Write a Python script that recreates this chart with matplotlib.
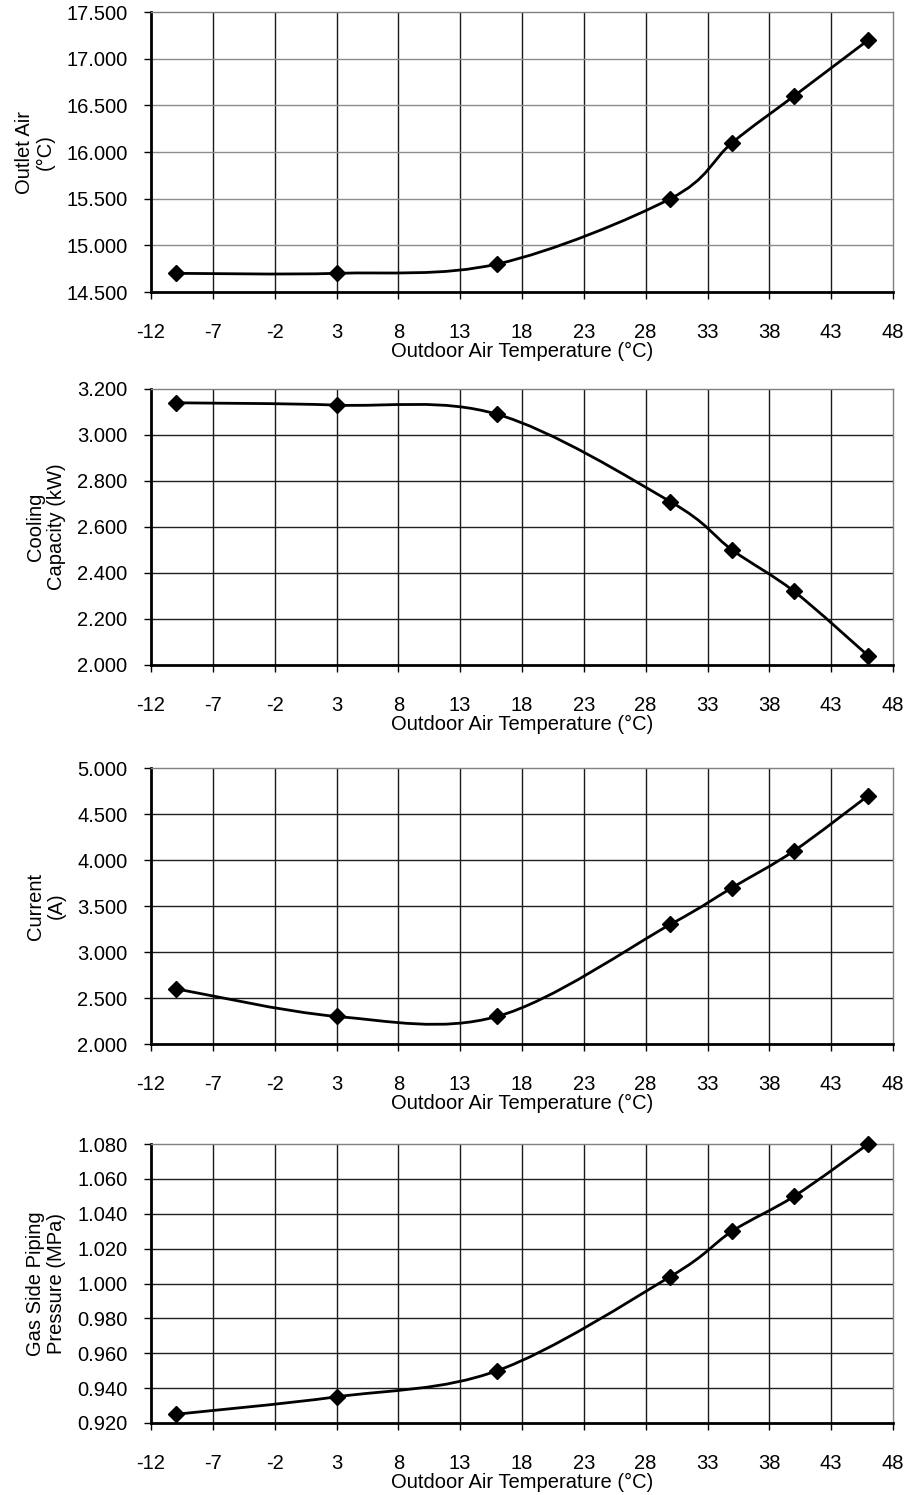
import numpy as np
import matplotlib.pyplot as plt
from matplotlib.path import Path
from matplotlib.patches import PathPatch

plt.rcParams['font.family'] = ['Liberation Sans', 'DejaVu Sans']
plt.rcParams['axes.unicode_minus'] = False

temps = [-10, 3, 16, 30, 35, 40, 46]
outlet_air = [14.7, 14.7, 14.8, 15.5, 16.1, 16.6, 17.2]
cooling_cap = [3.14, 3.13, 3.09, 2.71, 2.50, 2.32, 2.04]
current = [2.6, 2.3, 2.3, 3.3, 3.7, 4.1, 4.7]
gas_pressure = [0.925, 0.935, 0.950, 1.004, 1.030, 1.050, 1.080]

xticks = np.arange(-12, 49, 5)

panels = [
    (outlet_air, "Outlet Air\n(°C)", (14.5, 17.5, 0.5), (12, 292), "#8c8c8c"),
    (cooling_cap, "Cooling\nCapacity (kW)", (2.0, 3.2, 0.2), (389, 665), "#202020"),
    (current, "Current\n(A)", (2.0, 5.0, 0.5), (768, 1044), "#202020"),
    (gas_pressure, "Gas Side Piping\nPressure (MPa)", (0.92, 1.08, 0.02), (1144, 1423), "#202020"),
]

W, H = 907, 1495


def smooth_path(xs, ys):
    # Excel-like smoothed line: cubic Bezier through every point
    p = np.column_stack([xs, ys]).astype(float)
    n = len(p)
    verts = [p[0]]
    codes = [Path.MOVETO]
    for i in range(n - 1):
        p0 = p[i - 1] if i > 0 else p[i]
        p3 = p[i + 2] if i + 2 < n else p[i + 1]
        c1 = p[i] + (p[i + 1] - p0) / 6.0
        c2 = p[i + 1] - (p3 - p[i]) / 6.0
        verts += [c1, c2, p[i + 1]]
        codes += [Path.CURVE4] * 3
    return Path(verts, codes)


fig = plt.figure(figsize=(W / 100, H / 100), dpi=100)
left, right = 151, 893
fs = 14.5

for vals, ylab, (ymin, ymax, ystep), (top, bot), hcol in panels:
    ax = fig.add_axes([left / W, 1 - bot / H, (right - left) / W, (bot - top) / H])
    ax.set_xlim(-12, 48)
    ax.set_ylim(ymin, ymax)
    ax.set_xticks(xticks)
    yt = np.arange(ymin, ymax + ystep / 2, ystep)
    ax.set_yticks(yt)
    ax.set_yticklabels([f"{v:.3f}" for v in yt])
    for v in xticks[1:-1]:
        ax.axvline(v, color="#1a1a1a", lw=1.0, zorder=1)
    for v in yt[1:-1]:
        ax.axhline(v, color=hcol, lw=1.0, zorder=1)
    ax.add_patch(PathPatch(smooth_path(temps, vals), fill=False, ec="black", lw=2.0, zorder=3))
    ax.plot(temps, vals, ls="none", marker="D", ms=8, color="black", zorder=4, clip_on=False)
    for s in ("top", "right"):
        ax.spines[s].set_color("#808080")
        ax.spines[s].set_linewidth(1.0)
    for s in ("left", "bottom"):
        ax.spines[s].set_color("black")
        ax.spines[s].set_linewidth(2.0)
    ax.tick_params(axis="both", direction="out", length=5, width=1, labelsize=fs, colors="black")
    ax.tick_params(axis="x", pad=17)
    ax.tick_params(axis="y", pad=12)
    ax.set_xlabel("Outdoor Air Temperature (°C)", fontsize=fs, labelpad=0)
    ax.set_ylabel(ylab, fontsize=fs, labelpad=8, linespacing=1.15)

fig.savefig("out.png", dpi=100)
